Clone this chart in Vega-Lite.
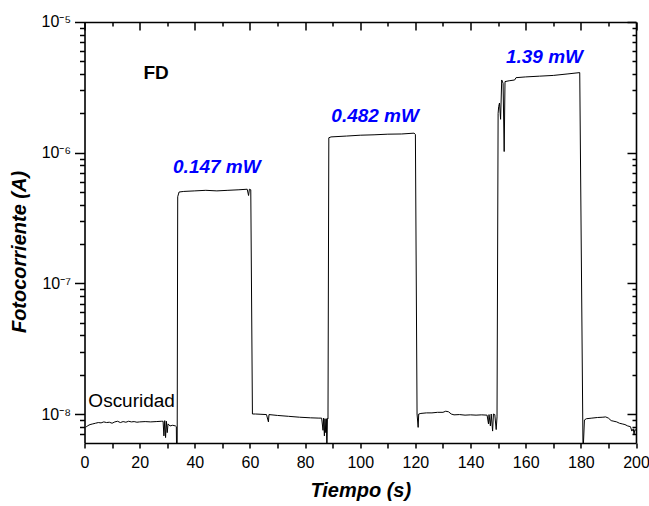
{
  "$schema": "https://vega.github.io/schema/vega-lite/v6.json",
  "width": 551.5,
  "height": 421,
  "autosize": "none",
  "padding": {"left": 84.5, "top": 22, "right": 13, "bottom": 62.7},
  "background": "white",
  "config": {
    "view": {"stroke": null},
    "font": "Liberation Sans",
    "axis": {"grid": false, "ticks": true, "domain": true, "domainColor": "black", "tickColor": "black", "labelColor": "black", "titleColor": "black", "domainWidth": 1.6, "tickWidth": 1.5, "tickOpacity": 1}
  },
  "datasets": {
    "curve": [
      {"t": 0.5, "current": 7.9e-9}, {"t": 1, "current": 8.1e-9}, {"t": 2, "current": 8.3e-9}, {"t": 3, "current": 8.4e-9},
      {"t": 4, "current": 8.5e-9}, {"t": 5, "current": 8.6e-9}, {"t": 6, "current": 8.55e-9}, {"t": 7, "current": 8.7e-9},
      {"t": 8, "current": 8.6e-9}, {"t": 9, "current": 8.65e-9}, {"t": 10, "current": 8.5e-9}, {"t": 11, "current": 8.7e-9},
      {"t": 12, "current": 8.8e-9}, {"t": 13, "current": 8.6e-9}, {"t": 14, "current": 8.75e-9}, {"t": 15, "current": 8.65e-9},
      {"t": 16, "current": 8.8e-9}, {"t": 17, "current": 8.7e-9}, {"t": 18, "current": 8.75e-9}, {"t": 19, "current": 8.65e-9},
      {"t": 20, "current": 8.7e-9}, {"t": 22, "current": 8.75e-9}, {"t": 24, "current": 8.7e-9}, {"t": 26, "current": 8.75e-9},
      {"t": 28, "current": 8.8e-9}, {"t": 28.5, "current": 8.8e-9}, {"t": 28.8, "current": 6.8e-9}, {"t": 29.1, "current": 8.9e-9},
      {"t": 29.4, "current": 6.6e-9}, {"t": 29.7, "current": 8.8e-9}, {"t": 30.0, "current": 7.2e-9}, {"t": 30.3, "current": 8.4e-9},
      {"t": 31, "current": 8.1e-9}, {"t": 32, "current": 8.2e-9}, {"t": 33, "current": 8.1e-9}, {"t": 33.3, "current": 8.0e-9},
      {"t": 33.4, "current": 5e-9}, {"t": 33.6, "current": 5e-9}, {"t": 33.8, "current": 4.6e-7}, {"t": 34.3, "current": 5.0e-7},
      {"t": 36, "current": 5.05e-7}, {"t": 40, "current": 5.1e-7}, {"t": 44, "current": 5.15e-7}, {"t": 48, "current": 5.1e-7},
      {"t": 52, "current": 5.15e-7}, {"t": 56, "current": 5.2e-7}, {"t": 59, "current": 5.25e-7}, {"t": 59.5, "current": 4.7e-7},
      {"t": 59.8, "current": 5.25e-7}, {"t": 60.3, "current": 5.2e-7}, {"t": 60.9, "current": 1.0e-8}, {"t": 62, "current": 1.0e-8},
      {"t": 64, "current": 9.95e-9}, {"t": 66, "current": 9.9e-9}, {"t": 66.7, "current": 8.7e-9}, {"t": 66.9, "current": 9.9e-9},
      {"t": 70, "current": 9.75e-9}, {"t": 74, "current": 9.6e-9}, {"t": 78, "current": 9.45e-9}, {"t": 82, "current": 9.35e-9},
      {"t": 85, "current": 9.3e-9}, {"t": 86, "current": 9.3e-9}, {"t": 86.5, "current": 7.5e-9}, {"t": 86.7, "current": 9.3e-9},
      {"t": 87, "current": 6.8e-9}, {"t": 87.2, "current": 9.2e-9}, {"t": 87.5, "current": 7.2e-9}, {"t": 87.7, "current": 9.2e-9},
      {"t": 87.9, "current": 5e-9}, {"t": 88.1, "current": 9.3e-9}, {"t": 88.3, "current": 9.2e-9}, {"t": 88.6, "current": 1.3e-6},
      {"t": 89.4, "current": 1.32e-6}, {"t": 95, "current": 1.34e-6}, {"t": 100, "current": 1.36e-6}, {"t": 105, "current": 1.37e-6},
      {"t": 110, "current": 1.385e-6}, {"t": 115, "current": 1.39e-6}, {"t": 119.5, "current": 1.41e-6}, {"t": 120.0, "current": 1.38e-6},
      {"t": 120.6, "current": 1.0e-8}, {"t": 121.0, "current": 7.9e-9}, {"t": 121.2, "current": 1.0e-8}, {"t": 122, "current": 1.01e-8},
      {"t": 124, "current": 1.02e-8}, {"t": 126, "current": 1.02e-8}, {"t": 128, "current": 1.03e-8}, {"t": 130, "current": 1.03e-8},
      {"t": 131, "current": 1.05e-8}, {"t": 132, "current": 1.04e-8}, {"t": 133, "current": 1.0e-8}, {"t": 134, "current": 9.85e-9},
      {"t": 136, "current": 9.9e-9}, {"t": 138, "current": 9.8e-9}, {"t": 140, "current": 9.85e-9}, {"t": 142, "current": 9.8e-9},
      {"t": 144, "current": 9.85e-9}, {"t": 146, "current": 9.8e-9}, {"t": 146.5, "current": 8.4e-9}, {"t": 146.7, "current": 9.9e-9},
      {"t": 147.2, "current": 8.1e-9}, {"t": 147.5, "current": 1.0e-8}, {"t": 148, "current": 7.4e-9}, {"t": 148.3, "current": 1.0e-8},
      {"t": 148.8, "current": 9.9e-9}, {"t": 149.3, "current": 7.6e-9}, {"t": 149.6, "current": 9.5e-9}, {"t": 150.0, "current": 2.0e-6},
      {"t": 150.2, "current": 2.25e-6}, {"t": 150.5, "current": 2.4e-6}, {"t": 150.9, "current": 1.8e-6}, {"t": 151.3, "current": 3.6e-6},
      {"t": 151.8, "current": 3.4e-6}, {"t": 152.2, "current": 1.02e-6}, {"t": 152.5, "current": 3.5e-6}, {"t": 154, "current": 3.55e-6},
      {"t": 156, "current": 3.6e-6}, {"t": 156.5, "current": 3.75e-6}, {"t": 160, "current": 3.8e-6}, {"t": 165, "current": 3.85e-6},
      {"t": 170, "current": 3.9e-6}, {"t": 175, "current": 4.0e-6}, {"t": 179.6, "current": 4.1e-6}, {"t": 180.8, "current": 5e-9},
      {"t": 181.3, "current": 9.0e-9}, {"t": 182, "current": 9.2e-9}, {"t": 184, "current": 9.3e-9}, {"t": 186, "current": 9.4e-9},
      {"t": 188, "current": 9.45e-9}, {"t": 189, "current": 9.5e-9}, {"t": 190, "current": 9.3e-9}, {"t": 191, "current": 8.9e-9},
      {"t": 192, "current": 8.8e-9}, {"t": 193, "current": 8.7e-9}, {"t": 194, "current": 8.5e-9}, {"t": 195, "current": 8.4e-9},
      {"t": 196, "current": 8.3e-9}, {"t": 197, "current": 8.1e-9}, {"t": 198, "current": 8.0e-9}, {"t": 198.5, "current": 7.4e-9},
      {"t": 199, "current": 7.7e-9}, {"t": 199.3, "current": 7.0e-9}, {"t": 199.6, "current": 7.6e-9}, {"t": 200, "current": 7.5e-9}
    ],
    "notes": [
      {"label": "FD", "t": 25.95, "current": 3.66e-6, "kind": "bold"},
      {"label": "0.147 mW", "t": 48.0, "current": 6.95e-7, "kind": "power"},
      {"label": "0.482 mW", "t": 105.4, "current": 1.73e-6, "kind": "power"},
      {"label": "1.39 mW", "t": 166.8, "current": 4.83e-6, "kind": "power"},
      {"label": "Oscuridad", "t": 1.4, "current": 1.14e-8, "kind": "plain"}
    ]
  },
  "resolve": {"axis": {"x": "independent", "y": "independent"}},
  "layer": [
    {
      "data": {"name": "curve"},
      "mark": {"type": "line", "color": "black", "strokeWidth": 1, "clip": true},
      "encoding": {
        "x": {
          "field": "t", "type": "quantitative",
          "scale": {"domain": [0, 200], "nice": false, "zero": false},
          "axis": {
            "orient": "bottom",
            "values": [0, 10, 20, 30, 40, 50, 60, 70, 80, 90, 100, 110, 120, 130, 140, 150, 160, 170, 180, 190, 200],
            "labelExpr": "datum.value % 20 == 0 ? datum.label : ''",
            "ticks": true,
            "tickSize": 5,
            "labelFontSize": 16,
            "labelPadding": 7,
            "labelFlush": false,
            "labelOverlap": false,
            "title": "Tiempo (s)",
            "titleFontSize": 20,
            "titleFontWeight": "bold",
            "titleFontStyle": "italic",
            "titleY": 54,
            "titleBaseline": "alphabetic"
          }
        },
        "y": {
          "field": "current", "type": "quantitative",
          "scale": {"type": "log", "domain": [6e-9, 1e-5], "nice": false},
          "axis": {
            "orient": "left",
            "values": [7e-9, 8e-9, 9e-9, 1e-8, 2e-8, 3e-8, 4e-8, 5e-8, 6e-8, 7e-8, 8e-8, 9e-8, 1e-7, 2e-7, 3e-7, 4e-7, 5e-7, 6e-7, 7e-7, 8e-7, 9e-7, 1e-6, 2e-6, 3e-6, 4e-6, 5e-6, 6e-6, 7e-6, 8e-6, 9e-6, 1e-5],
            "labelExpr": "abs(log(datum.value)/LN10 - round(log(datum.value)/LN10)) < 0.001 ? (round(log(datum.value)/LN10) == -5 ? '10⁻⁵' : round(log(datum.value)/LN10) == -6 ? '10⁻⁶' : round(log(datum.value)/LN10) == -7 ? '10⁻⁷' : '10⁻⁸') : ''",
            "ticks": true,
            "tickSize": {"condition": {"test": "abs(log(datum.value)/LN10 - round(log(datum.value)/LN10)) < 0.001", "value": 10}, "value": 5},
            "labelFontSize": 16,
            "labelPadding": 4,
            "labelOverlap": false,
            "labelFlush": false,
            "title": "Fotocorriente (A)",
            "titleFontSize": 20,
            "titleFontWeight": "bold",
            "titleFontStyle": "italic",
            "titleAngle": -90,
            "titleX": -59.5,
            "titleY": 229.5,
            "titleAlign": "center",
            "titleBaseline": "alphabetic"
          }
        }
      }
    },
    {
      "data": {"name": "curve"},
      "mark": {"type": "line", "strokeOpacity": 0, "clip": true},
      "encoding": {
        "x": {
          "field": "t", "type": "quantitative",
          "axis": {
            "orient": "top",
            "values": [0, 10, 20, 30, 40, 50, 60, 70, 80, 90, 100, 110, 120, 130, 140, 150, 160, 170, 180, 190, 200],
            "labels": false,
            "ticks": true,
            "title": null,
            "tickSize": {"condition": {"test": "datum.value % 20 == 0", "value": -8}, "value": -4}
          }
        },
        "y": {
          "field": "current", "type": "quantitative",
          "axis": {
            "orient": "right",
            "values": [7e-9, 8e-9, 9e-9, 1e-8, 2e-8, 3e-8, 4e-8, 5e-8, 6e-8, 7e-8, 8e-8, 9e-8, 1e-7, 2e-7, 3e-7, 4e-7, 5e-7, 6e-7, 7e-7, 8e-7, 9e-7, 1e-6, 2e-6, 3e-6, 4e-6, 5e-6, 6e-6, 7e-6, 8e-6, 9e-6, 1e-5],
            "labels": false,
            "ticks": true,
            "title": null,
            "tickSize": {"condition": {"test": "abs(log(datum.value)/LN10 - round(log(datum.value)/LN10)) < 0.001", "value": -9}, "value": -4}
          }
        }
      }
    },
    {
      "data": {"name": "notes"},
      "transform": [{"filter": "datum.kind == 'bold'"}],
      "mark": {"type": "text", "font": "Liberation Sans", "fontSize": 19, "fontWeight": "bold", "color": "black", "align": "center", "baseline": "alphabetic"},
      "encoding": {
        "x": {"field": "t", "type": "quantitative", "axis": null},
        "y": {"field": "current", "type": "quantitative", "axis": null},
        "text": {"field": "label"}
      }
    },
    {
      "data": {"name": "notes"},
      "transform": [{"filter": "datum.kind == 'power'"}],
      "mark": {"type": "text", "font": "Liberation Sans", "fontSize": 19, "fontWeight": "bold", "fontStyle": "italic", "color": "#0000ff", "align": "center", "baseline": "alphabetic"},
      "encoding": {
        "x": {"field": "t", "type": "quantitative", "axis": null},
        "y": {"field": "current", "type": "quantitative", "axis": null},
        "text": {"field": "label"}
      }
    },
    {
      "data": {"name": "notes"},
      "transform": [{"filter": "datum.kind == 'plain'"}],
      "mark": {"type": "text", "font": "Liberation Sans", "fontSize": 19, "color": "black", "align": "left", "baseline": "alphabetic"},
      "encoding": {
        "x": {"field": "t", "type": "quantitative", "axis": null},
        "y": {"field": "current", "type": "quantitative", "axis": null},
        "text": {"field": "label"}
      }
    }
  ]
}
